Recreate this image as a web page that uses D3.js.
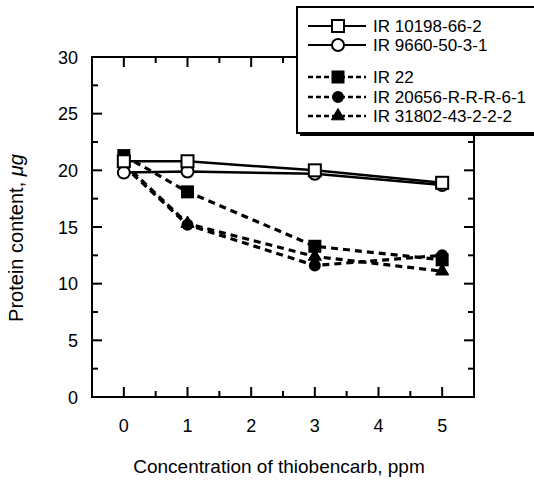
<!DOCTYPE html>
<meta charset="UTF-8">
<html>
<head>
<style>
html, body { margin:0; padding:0; background:#fff; }
svg { font-family: "Liberation Sans", Arial, Helvetica, sans-serif; }
.frame { fill:none; stroke:#000; stroke-width:2; }
.tick-line { stroke:#000; stroke-width:2; }
.solid { fill:none; stroke:#000; stroke-width:2.5; }
.dashed { fill:none; stroke:#000; stroke-width:3.2; stroke-dasharray:7,5; }
</style>
</head>
<body>
<svg width="534" height="484"></svg>
<script src="https://d3js.org/d3.v7.min.js"></script>
<script>
// thiobencarb concentration, ppm
var conc = [0, 1, 3, 5];
var xTicks = [0, 1, 2, 3, 4, 5];
var yTicks = [0, 5, 10, 15, 20, 25, 30];

var names = ["IR 10198-66-2", "IR 9660-50-3-1", "IR 22", "IR 20656-R-R-R-6-1", "IR 31802-43-2-2-2"];
var ir10198 = [20.8, 20.8, 20.0, 18.9];
var ir9660  = [19.8, 19.9, 19.7, 18.7];
var ir22    = [21.3, 18.1, 13.3, 12.1];
var ir20656 = [20.4, 15.2, 11.6, 12.5];
var ir31802 = [20.6, 15.3, 12.4, 11.1];
var markers = ["square-open", "circle-open", "square", "circle", "triangle"];
var dashes  = [false, false, true, true, true];

var series = [ir10198, ir9660, ir22, ir20656, ir31802];

var svg = d3.select("svg");
var x = d3.scaleLinear().domain([-0.5, 5.5]).range([92, 474]);
var y = d3.scaleLinear().domain([0, 30]).range([397, 57]);

function minor(ticks, step) {
  var out = [];
  for (var i = 0; i < ticks.length - 1; i++) out.push(ticks[i] + step);
  return out;
}
var xMinor = minor(xTicks, 0.5);
var yMinor = minor(yTicks, 2.5);

// frame
svg.append("rect").attr("class", "frame")
  .attr("x", x(-0.5)).attr("y", y(30))
  .attr("width", x(5.5) - x(-0.5)).attr("height", y(0) - y(30));

// inward ticks on all four sides
var g = svg.append("g");
function tickX(vals, len) {
  vals.forEach(function(v) {
    g.append("line").attr("class", "tick-line")
      .attr("x1", x(v)).attr("x2", x(v)).attr("y1", y(0)).attr("y2", y(0) - len);
    g.append("line").attr("class", "tick-line")
      .attr("x1", x(v)).attr("x2", x(v)).attr("y1", y(30)).attr("y2", y(30) + len);
  });
}
function tickY(vals, len) {
  vals.forEach(function(v) {
    g.append("line").attr("class", "tick-line")
      .attr("x1", x(-0.5)).attr("x2", x(-0.5) + len).attr("y1", y(v)).attr("y2", y(v));
    g.append("line").attr("class", "tick-line")
      .attr("x1", x(5.5)).attr("x2", x(5.5) - len).attr("y1", y(v)).attr("y2", y(v));
  });
}
tickX(xTicks, 10);
tickX(xMinor, 6);
tickY(yTicks.slice(1, -1), 10);
tickY(yMinor, 6);

// tick labels
svg.append("g").selectAll("text").data(xTicks).enter().append("text")
  .attr("x", function(d) { return x(d); }).attr("y", 432)
  .attr("text-anchor", "middle").attr("font-size", 18)
  .text(function(d) { return d; });
svg.append("g").selectAll("text").data(yTicks).enter().append("text")
  .attr("x", 78).attr("y", function(d) { return y(d) + 6.5; })
  .attr("text-anchor", "end").attr("font-size", 18)
  .text(function(d) { return d; });

// axis titles
svg.append("text").attr("x", 279).attr("y", 473)
  .attr("text-anchor", "middle").attr("font-size", 19)
  .text("Concentration of thiobencarb, ppm");
svg.append("text").attr("transform", "translate(23,238) rotate(-90)")
  .attr("text-anchor", "middle").attr("font-size", 20)
  .text("Protein content, ")
  .append("tspan").attr("font-style", "italic").text("\u03bcg");

// markers
function drawMarker(sel, kind, cx, cy) {
  var fill = kind.indexOf("open") >= 0 ? "#fff" : "#000";
  if (kind.indexOf("square") === 0) {
    var w = kind === "square" ? 11 : 12;
    sel.append("rect").attr("x", cx - w / 2).attr("y", cy - w / 2)
      .attr("width", w).attr("height", w)
      .attr("fill", fill).attr("stroke", "#000").attr("stroke-width", 2);
  } else if (kind.indexOf("circle") === 0) {
    sel.append("circle").attr("cx", cx).attr("cy", cy)
      .attr("r", kind === "circle" ? 5 : 6)
      .attr("fill", fill).attr("stroke", "#000").attr("stroke-width", 2);
  } else {
    sel.append("path").attr("transform", "translate(" + cx + "," + cy + ")")
      .attr("d", d3.symbol(d3.symbolTriangle, 75)())
      .attr("fill", "#000").attr("stroke", "#000").attr("stroke-width", 1);
  }
}

var line = d3.line()
  .x(function(d, i) { return x(conc[i]); })
  .y(function(d) { return y(d); });

var plot = svg.append("g");
// dashed series underneath, solid on top
[4, 3, 2, 1, 0].forEach(function(k) {
  plot.append("path").datum(series[k])
    .attr("class", dashes[k] ? "dashed" : "solid")
    .attr("d", line);
});
[4, 3, 2, 1, 0].forEach(function(k) {
  series[k].forEach(function(v, i) {
    drawMarker(plot, markers[k], x(conc[i]), y(v));
  });
});

// legend
var lg = svg.append("g");
lg.append("rect").attr("x", 300).attr("y", 10).attr("width", 260).attr("height", 126).attr("fill", "#000");
lg.append("rect").attr("x", 297).attr("y", 7).attr("width", 260).attr("height", 126)
  .attr("fill", "#fff").attr("stroke", "#000").attr("stroke-width", 2);
var rows = [26, 45, 77, 97, 116];
names.forEach(function(n, k) {
  lg.append("line").attr("x1", 308).attr("x2", 366).attr("y1", rows[k]).attr("y2", rows[k])
    .attr("class", dashes[k] ? "dashed" : "solid")
    .style("stroke-dasharray", dashes[k] ? "5,3" : null)
    .style("stroke-width", dashes[k] ? 2.5 : 2);
  drawMarker(lg, markers[k], 338, rows[k]);
  lg.append("text").attr("x", 373).attr("y", rows[k] + 6)
    .attr("font-size", 17).text(n);
});
</script>
</body>
</html>
